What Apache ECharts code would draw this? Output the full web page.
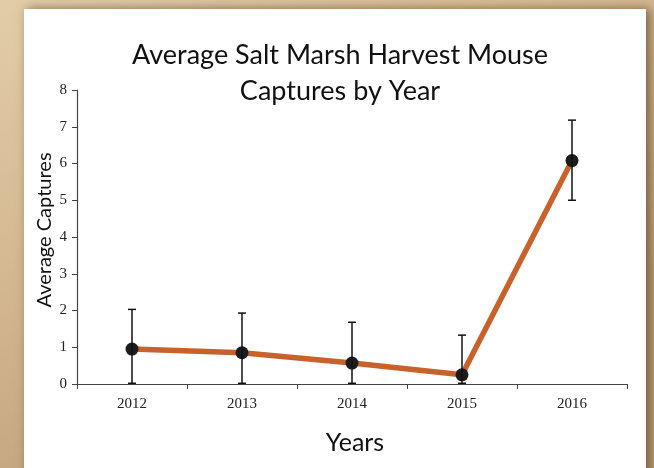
<!DOCTYPE html>
<html><head><meta charset="utf-8">
<script src="https://cdn.jsdelivr.net/npm/echarts@6/dist/echarts.min.js"></script>
<style>html,body{margin:0;padding:0;}#c{width:654px;height:468px;}</style>
</head><body><div id="c"></div>
<script>
var years = ['2012', '2013', '2014', '2015', '2016'];
var means = [0.95, 0.85, 0.57, 0.25, 6.08];
var errLow = [0.02, 0.02, 0.02, 0.02, 5.0];
var errHigh = [2.03, 1.93, 1.68, 1.33, 7.18];
var yTicks = [0, 1, 2, 3, 4, 5, 6, 7, 8];
var titleText = 'Average Salt Marsh Harvest Mouse\nCaptures by Year';

var chart = echarts.init(document.getElementById('c'));
var errData = years.map(function (y, i) { return [i, errLow[i], errHigh[i]]; });

chart.setOption({
  backgroundColor: {
    type: 'linear', x: 0, y: 0, x2: 0.3, y2: 1,
    colorStops: [{ offset: 0, color: '#E2CCA8' }, { offset: 0.5, color: '#D4B891' }, { offset: 1, color: '#C0A37D' }]
  },
  graphic: [{
    type: 'rect', z: -10, silent: true,
    shape: { x: 24, y: 9, width: 622, height: 470 },
    style: { fill: '#ffffff', shadowBlur: 10, shadowOffsetX: 4, shadowOffsetY: 0, shadowColor: 'rgba(60,40,20,0.6)' }
  }, {
    type: 'text', z: 10, silent: true, x: 340, y: 37,
    style: { text: titleText, align: 'center', verticalAlign: 'top', fill: '#111',
      fontFamily: 'Lato', fontSize: 27, lineHeight: 36 }
  }],
  grid: { left: 77, right: 27, top: 90, bottom: 84 },
  xAxis: {
    type: 'category', data: years, boundaryGap: true,
    name: 'Years', nameLocation: 'middle', nameGap: 46, nameMoveOverlap: false,
    nameTextStyle: { fontFamily: 'Lato', fontSize: 25, color: '#111', padding: [0, 0, 0, 6] },
    axisLine: { lineStyle: { color: '#444', width: 1.2 } },
    axisTick: { show: true, alignWithLabel: false, length: 5, lineStyle: { color: '#444' } },
    axisLabel: { fontFamily: 'Liberation Serif', fontSize: 15, color: '#222', margin: 13 },
    splitLine: { show: false }
  },
  yAxis: {
    type: 'value', min: 0, max: 8, interval: 1,
    name: 'Average Captures', nameLocation: 'middle', nameGap: 22, nameMoveOverlap: false,
    nameTextStyle: { fontFamily: 'Lato', fontSize: 20, color: '#111', padding: [0, 0, 0, 14] },
    axisLine: { show: true, lineStyle: { color: '#444', width: 1.2 } },
    axisTick: { show: true, length: 5, lineStyle: { color: '#444' } },
    axisLabel: { fontFamily: 'Liberation Serif', fontSize: 15, color: '#222', margin: 10,
      formatter: function (v) { return yTicks.indexOf(v) >= 0 ? String(v) : ''; } },
    splitLine: { show: false }
  },
  series: [{
    type: 'line', data: means, z: 3,
    lineStyle: { color: '#C6622A', width: 5.5 },
    symbol: 'circle', symbolSize: 13,
    itemStyle: { color: '#1d1b1c' }
  }, {
    type: 'custom', data: errData, z: 4,
    renderItem: function (params, api) {
      var x = api.value(0);
      var lo = api.coord([x, api.value(1)]);
      var hi = api.coord([x, api.value(2)]);
      var hw = 4;
      var st = { stroke: '#111', lineWidth: 1.5 };
      return { type: 'group', children: [
        { type: 'line', shape: { x1: lo[0], y1: lo[1], x2: hi[0], y2: hi[1] }, style: st },
        { type: 'line', shape: { x1: lo[0] - hw, y1: lo[1], x2: lo[0] + hw, y2: lo[1] }, style: st },
        { type: 'line', shape: { x1: hi[0] - hw, y1: hi[1], x2: hi[0] + hw, y2: hi[1] }, style: st }
      ] };
    }
  }]
});
</script></body></html>
